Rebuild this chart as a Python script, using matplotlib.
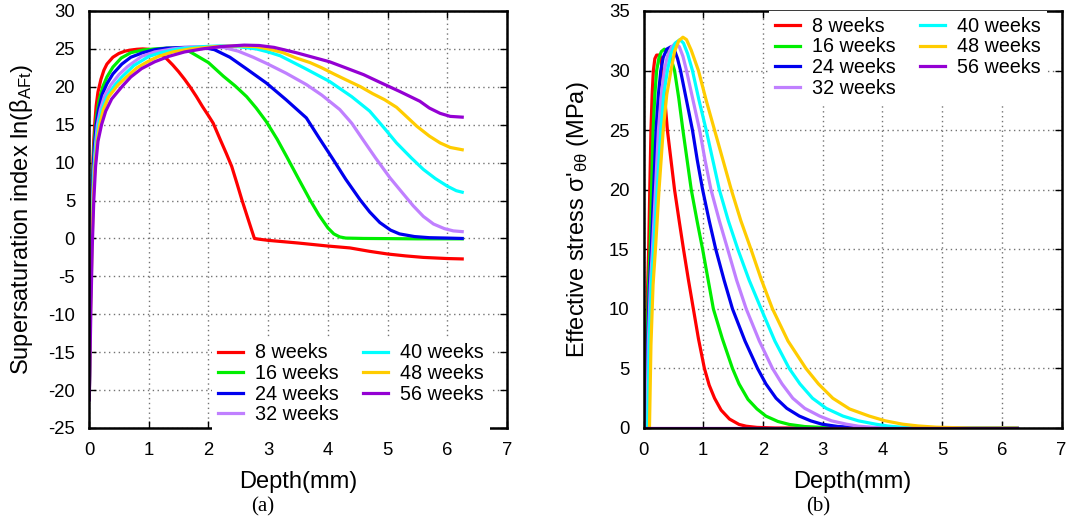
import matplotlib
matplotlib.use("Agg")
import matplotlib.pyplot as plt

# Supersaturation index and effective stress vs depth, 8..56 weeks.

plt.rcParams["font.family"] = ["Liberation Sans", "DejaVu Sans"]
plt.rcParams["mathtext.fontset"] = "custom"
plt.rcParams["mathtext.rm"] = "Liberation Sans"
plt.rcParams["mathtext.it"] = "Liberation Sans:italic"

labels = ["8 weeks", "16 weeks", "24 weeks", "32 weeks", "40 weeks", "48 weeks", "56 weeks"]
colors = ["#ff0000", "#00ee00", "#0000ee", "#c080ff", "#00ffff", "#ffcc00", "#9400d3"]

# (a) supersaturation index ln(beta_AFt)
sat_x = [
    [0.005, 0.015, 0.03, 0.04, 0.05, 0.065, 0.08, 0.10, 0.12, 0.15, 0.2, 0.25, 0.3, 0.4, 0.5,
     0.6, 0.7, 0.8, 0.9, 1.0, 1.1, 1.2, 1.3, 1.4, 1.5, 1.6, 1.7, 1.8, 1.9, 2.0, 2.08, 2.2, 2.3,
     2.39, 2.48, 2.56, 2.65, 2.72, 2.77, 2.85, 3.0, 3.5, 4.0, 4.37, 4.7, 5.0, 5.3, 5.6, 6.0, 6.25],
    [0.005, 0.015, 0.03, 0.045, 0.06, 0.08, 0.10, 0.13, 0.17, 0.23, 0.3, 0.4, 0.54, 0.7, 0.9,
     1.1, 1.3, 1.5, 1.65, 1.74, 2.0, 2.25, 2.45, 2.64, 2.8, 2.97, 3.15, 3.31, 3.5, 3.7, 3.85,
     4.0, 4.1, 4.2, 4.3, 4.6, 5.5, 6.25],
    [0.005, 0.02, 0.035, 0.05, 0.07, 0.09, 0.12, 0.16, 0.22, 0.3, 0.4, 0.55, 0.7, 0.9, 1.1,
     1.3, 1.6, 1.9, 2.1, 2.36, 2.65, 2.97, 3.3, 3.64, 3.85, 4.09, 4.3, 4.54, 4.7, 4.87, 5.05,
     5.2, 5.45, 5.7, 6.0, 6.25],
    [0.005, 0.02, 0.04, 0.06, 0.08, 0.11, 0.14, 0.19, 0.26, 0.37, 0.5, 0.65, 0.88, 1.1, 1.4,
     1.7, 2.0, 2.25, 2.5, 2.75, 2.97, 3.3, 3.64, 3.9, 4.2, 4.4, 4.59, 4.8, 5.04, 5.25, 5.43,
     5.6, 5.77, 5.95, 6.1, 6.25],
    [0.005, 0.02, 0.045, 0.065, 0.09, 0.12, 0.16, 0.22, 0.3, 0.43, 0.55, 0.75, 1.0, 1.2, 1.5,
     1.9, 2.2, 2.5, 2.8, 3.0, 3.2, 3.6, 4.03, 4.4, 4.7, 4.95, 5.15, 5.4, 5.6, 5.8, 6.0, 6.15,
     6.25],
    [0.005, 0.025, 0.05, 0.07, 0.1, 0.14, 0.18, 0.24, 0.33, 0.48, 0.6, 0.8, 1.0, 1.16, 1.4,
     1.7, 2.1, 2.5, 2.8, 3.0, 3.25, 3.47, 3.7, 3.9, 4.1, 4.31, 4.55, 4.75, 4.95, 5.15, 5.3,
     5.49, 5.7, 5.88, 6.05, 6.25],
    [0.005, 0.03, 0.055, 0.08, 0.11, 0.15, 0.21, 0.28, 0.38, 0.56, 0.7, 0.88, 1.1, 1.33, 1.6,
     1.9, 2.2, 2.6, 2.85, 3.1, 3.47, 3.75, 4.03, 4.3, 4.6, 4.87, 5.2, 5.54, 5.7, 5.88, 6.05,
     6.25],
]
sat_y = [
    [-21, -12, -3, 2, 6, 10, 13, 15.5, 17.5, 19.3, 21.0, 22.2, 23.0, 23.9, 24.4,
     24.7, 24.85, 24.95, 25.0, 24.95, 24.7, 24.3, 23.7, 22.9, 22.0, 21.0, 19.9, 18.7, 17.4,
     16.2, 15.2, 13.0, 11.2, 9.5, 7.2, 5.1, 2.9, 1.2, 0.0, -0.1, -0.25, -0.6, -1.0, -1.25,
     -1.7, -2.05, -2.3, -2.5, -2.65, -2.7],
    [-21, -12, -3, 3, 8, 11.5, 14, 16.3, 18.3, 20, 21.3, 22.6, 23.8, 24.5, 24.85,
     25.0, 25.1, 25.1, 24.8, 24.4, 23.2, 21.4, 20.1, 18.7, 17.2, 15.4, 13.1, 10.8, 8.0, 5.1,
     3.1, 1.4, 0.6, 0.2, 0.05, 0.0, -0.05, -0.05],
    [-21, -10, -2, 4, 9, 12, 15, 17, 19, 20.4, 21.7, 23.0, 23.9, 24.5, 24.9,
     25.1, 25.2, 25.2, 24.9, 23.9, 22.3, 20.5, 18.3, 15.9, 13.3, 10.4, 7.8, 5.1, 3.5, 2.1,
     1.1, 0.6, 0.25, 0.1, 0.05, 0.0],
    [-21, -10, -1, 5, 9, 12.5, 15, 17, 18.8, 20.3, 21.6, 22.7, 24.0, 24.6, 25.0,
     25.25, 25.3, 25.2, 24.7, 23.9, 23.1, 21.8, 20.3, 18.9, 17.0, 15.2, 13.0, 10.6, 8.0,
     6.0, 4.3, 2.9, 1.9, 1.3, 1.0, 0.9],
    [-21, -10, -1, 5, 9.5, 12.5, 15, 17, 18.7, 20.2, 21.3, 22.8, 24.0, 24.5, 25.0,
     25.3, 25.4, 25.3, 25.0, 24.6, 24.1, 22.5, 20.7, 18.7, 16.8, 14.5, 12.6, 10.6, 9.1, 7.9,
     6.9, 6.3, 6.1],
    [-21, -10, -1, 5, 9.5, 13, 15, 17, 18.7, 20.2, 21.1, 22.5, 23.4, 24.0, 24.6,
     25.0, 25.3, 25.4, 25.3, 25.0, 24.5, 23.8, 23.2, 22.5, 21.7, 20.9, 20.0, 19.1, 18.3,
     17.3, 16.2, 14.8, 13.5, 12.6, 12.0, 11.7],
    [-21.3, -10, -1, 5, 9.5, 12.8, 15, 16.8, 18.4, 20.1, 21.3, 22.4, 23.3, 24.0, 24.6,
     25.0, 25.3, 25.5, 25.45, 25.2, 24.5, 23.9, 23.3, 22.5, 21.6, 20.6, 19.4, 18.1, 17.2,
     16.5, 16.1, 16.0],
]

# (b) effective stress sigma'_thetatheta (MPa)
stress_x = [
    [0.02, 0.045, 0.07, 0.087, 0.105, 0.125, 0.145, 0.165, 0.19, 0.22, 0.26, 0.28, 0.31,
     0.35, 0.40, 0.46, 0.52, 0.6, 0.67, 0.75, 0.835, 0.92, 1.02, 1.1, 1.19, 1.3, 1.44, 1.6,
     1.72, 1.9, 2.2, 6.25],
    [0.035, 0.06, 0.085, 0.11, 0.135, 0.16, 0.19, 0.22, 0.26, 0.3, 0.35, 0.4, 0.46, 0.52,
     0.59, 0.66, 0.73, 0.80, 0.9, 0.99, 1.08, 1.17, 1.32, 1.49, 1.6, 1.75, 1.9, 2.05, 2.25,
     2.44, 2.7, 3.0, 3.6, 6.25],
    [0.045, 0.07, 0.1, 0.13, 0.17, 0.21, 0.25, 0.29, 0.33, 0.39, 0.46, 0.52, 0.57, 0.62,
     0.72, 0.82, 0.9, 0.99, 1.1, 1.21, 1.35, 1.49, 1.7, 1.91, 2.05, 2.22, 2.4, 2.61, 2.8,
     2.99, 3.25, 3.5, 4.2, 6.25],
    [0.055, 0.08, 0.115, 0.15, 0.2, 0.25, 0.3, 0.35, 0.4, 0.47, 0.54, 0.6, 0.66, 0.72,
     0.83, 0.94, 1.03, 1.13, 1.27, 1.41, 1.56, 1.72, 1.94, 2.16, 2.32, 2.5, 2.7, 2.95, 3.15,
     3.4, 3.6, 3.85, 4.5, 6.25],
    [0.07, 0.095, 0.13, 0.17, 0.23, 0.29, 0.34, 0.40, 0.46, 0.53, 0.61, 0.67, 0.74, 0.82,
     0.93, 1.05, 1.16, 1.27, 1.42, 1.58, 1.77, 1.97, 2.2, 2.44, 2.62, 2.83, 3.06, 3.34, 3.6,
     3.89, 4.1, 4.3, 4.6, 5.0, 6.25],
    [0.10, 0.125, 0.16, 0.20, 0.26, 0.33, 0.39, 0.46, 0.52, 0.59, 0.66, 0.72, 0.8, 0.92,
     1.05, 1.19, 1.33, 1.47, 1.63, 1.80, 1.97, 2.16, 2.42, 2.72, 2.93, 3.17, 3.45, 3.78,
     4.05, 4.34, 4.6, 4.9, 5.2, 5.5, 6.25],
    [0.0, 6.25],
]
stress_y = [
    [0, 7, 12, 15, 20, 25, 28, 30, 31.0, 31.3, 31.3, 31.2, 30.2, 28.0, 25, 22.5, 20, 17.3,
     15, 12.5, 10, 7.5, 5, 3.6, 2.5, 1.5, 0.75, 0.3, 0.15, 0.05, 0, 0],
    [0, 7, 12, 15, 20, 25, 28, 30, 31.1, 31.6, 31.8, 31.6, 31.0, 30, 27.7, 25, 22.5, 20,
     17.3, 15, 12.5, 10, 7.5, 5, 3.7, 2.4, 1.6, 1.0, 0.55, 0.3, 0.12, 0.05, 0, 0],
    [0, 7, 12, 15, 20, 25, 28, 30, 31.1, 31.8, 32.0, 31.7, 31.0, 30, 27.5, 25, 22.5, 20,
     17.4, 15, 12.4, 10, 7.3, 5, 3.7, 2.5, 1.65, 1.0, 0.6, 0.32, 0.13, 0.05, 0, 0],
    [0, 7, 12, 15, 20, 25, 28, 30, 31.2, 32.0, 32.3, 32.0, 31.2, 30, 27.5, 25, 22.5, 20,
     17.4, 15, 12.4, 10, 7.3, 5, 3.7, 2.5, 1.65, 1.0, 0.6, 0.32, 0.15, 0.06, 0, 0],
    [0, 7, 12, 15, 20, 25, 28, 30, 31.4, 32.3, 32.6, 32.3, 31.4, 30, 27.5, 25, 22.5, 20,
     17.4, 15, 12.4, 10, 7.3, 5, 3.7, 2.5, 1.65, 1.0, 0.6, 0.32, 0.16, 0.08, 0.03, 0, 0],
    [0, 7, 12, 15, 20, 25, 28, 30, 31.6, 32.5, 32.8, 32.6, 31.7, 30, 27.5, 25, 22.5, 20,
     17.4, 15, 12.5, 10, 7.3, 5, 3.7, 2.5, 1.6, 1.0, 0.6, 0.32, 0.17, 0.07, 0.03, 0, 0],
    [0, 0],
]

fig = plt.figure(figsize=(10.71, 5.2), dpi=100)
ax1 = fig.add_axes([89 / 1071, 92 / 520, 418 / 1071, 417 / 520])
ax2 = fig.add_axes([643.5 / 1071, 92 / 520, 418 / 1071, 417 / 520])


def style(ax):
    ax.grid(True, color="0.45", linestyle=(0, (1, 2.5)), linewidth=1.0)
    ax.set_axisbelow(True)
    for sp in ax.spines.values():
        sp.set_linewidth(1.8)
    ax.tick_params(direction="in", length=5, width=1, labelsize=13.3, pad=10,
                   top=True, right=True)
    ax.set_xlim(0, 7)
    ax.set_xlabel("Depth(mm)", fontsize=17, labelpad=8.5)


for i in range(7):
    ax1.plot(sat_x[i], sat_y[i], color=colors[i], lw=2.3, label=labels[i])
    ax2.plot(stress_x[i], stress_y[i], color=colors[i], lw=2.3, label=labels[i])

style(ax1)
ax1.set_ylim(-25, 30)
ax1.set_yticks(range(-25, 31, 5))
ax1.set_yticklabels([str(v) for v in range(-25, 31, 5)])
ax1.set_ylabel(r"Supersaturation index ln(β$_{\mathrm{AFt}}$)", fontsize=17)
ax1.yaxis.set_label_coords(-0.130, 0.5)

style(ax2)
ax2.set_ylim(0, 35)
ax2.set_yticks(range(0, 36, 5))
ax2.set_ylabel(r"Effective stress σ'$_{\mathrm{θθ}}$ (MPa)", fontsize=17)
ax2.yaxis.set_label_coords(-0.125, 0.5)

leg_kw = dict(ncol=2, fontsize=14.2, frameon=True, fancybox=False, framealpha=1,
              edgecolor="none", facecolor="white", handlelength=1.3, handletextpad=0.6,
              columnspacing=1.2, labelspacing=0.08, borderaxespad=0, borderpad=0.3)
ax1.legend(loc="lower left", bbox_to_anchor=(0.294, -0.005), **leg_kw)
ax2.legend(loc="upper left", bbox_to_anchor=(0.300, 1.0), **leg_kw)

fig.text(263 / 1071, 1 - 507 / 520, "(a)", family="Liberation Serif", fontsize=15,
         ha="center", va="center")
fig.text(818 / 1071, 1 - 507 / 520, "(b)", family="Liberation Serif", fontsize=15,
         ha="center", va="center")

fig.savefig("out.png", dpi=100)
